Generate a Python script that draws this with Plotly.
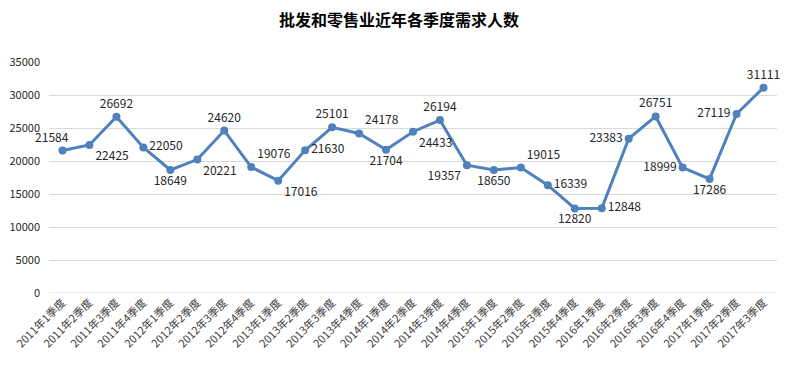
import plotly.graph_objects as go

categories = [f"{y}年{q}季度" for y in range(2011, 2018) for q in range(1, 5)][:27]
values = [21584, 22425, 26692, 22050, 18649, 20221, 24620, 19076, 17016, 21630,
          25101, 24178, 21704, 24433, 26194, 19357, 18650, 19015, 16339, 12820,
          12848, 23383, 26751, 18999, 17286, 27119, 31111]
label_pos = ["top center", "bottom right", "top center", "middle right", "bottom center",
             "bottom right", "top center", "top right", "bottom right", "middle right",
             "top center", "top right", "bottom center", "bottom right", "top center",
             "bottom left", "bottom center", "top right", "middle right", "bottom center",
             "middle right", "middle left", "top center", "middle left", "bottom center",
             "middle left", "top center"]
y_ticks = [0, 5000, 10000, 15000, 20000, 25000, 30000, 35000]

FONT = "Noto Sans CJK SC"

labels = [str(v) for v in values]
labels[0] = labels[0] + "\u00a0" * 8  # shift the first label a little to the left

fig = go.Figure(go.Scatter(
    x=categories, y=values, mode="lines+markers+text",
    text=labels, textposition=label_pos,
    textfont=dict(family=FONT, size=12, color="#262626"),
    line=dict(color="#4F81BD", width=3),
    marker=dict(color="#4F81BD", size=8),
    cliponaxis=False, showlegend=False,
))

# page body has an 8px margin, so the figure is offset by 8px
W, H = 782, 359
fig.update_layout(
    width=W, height=H,
    margin=dict(l=41, r=13, t=54, b=74, autoexpand=False),
    paper_bgcolor="white", plot_bgcolor="white",
    title=dict(text="<b>批发和零售业近年各季度需求人数</b>", x=0.5, xanchor="center",
               y=1 - 12 / H, yref="container", yanchor="middle",
               font=dict(family=FONT, size=16, color="#000000")),
    xaxis=dict(type="category", range=[-0.5, len(categories) - 0.5], tickangle=-45,
               showgrid=False, showline=False, ticks="", automargin=False,
               tickfont=dict(family=FONT, size=11, color="#404040")),
    yaxis=dict(range=[0, 35000], tickvals=y_ticks, ticktext=[str(t) for t in y_ticks],
               showgrid=True, gridcolor="#D9D9D9", gridwidth=1, zeroline=False,
               showline=False, ticks="", ticklabelstandoff=8, automargin=False,
               tickfont=dict(family=FONT, size=11, color="#262626")),
)
fig.add_shape(type="line", xref="paper", yref="y", x0=0, x1=1, y0=0, y1=0,
              line=dict(color="#D9D9D9", width=1), layer="below")

fig.write_html("out.html")
